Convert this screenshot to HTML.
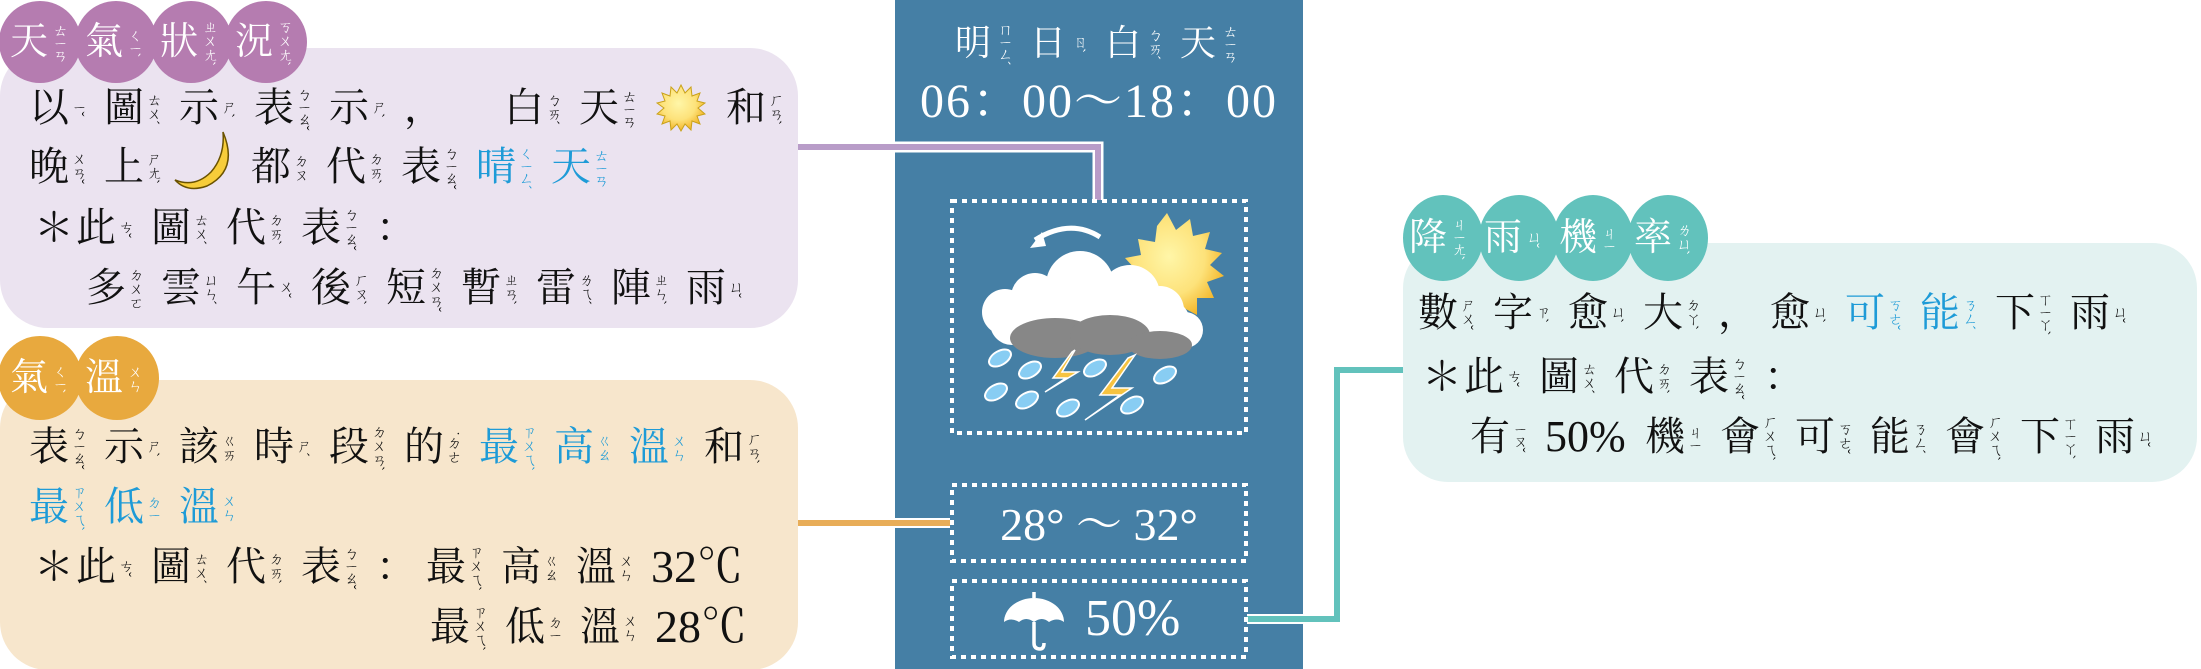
<!DOCTYPE html>
<html><head><meta charset="utf-8"><style>
*{margin:0;padding:0;box-sizing:border-box}
body{width:2201px;height:669px;position:relative;background:#fff;overflow:hidden;font-family:"Liberation Serif","Noto Serif CJK SC",serif;color:#111}
.ln{position:absolute;height:50px;line-height:50px;white-space:nowrap}
u{display:inline-block;position:relative;width:75px;text-decoration:none;font-size:40px;height:50px;vertical-align:top}
u i{position:absolute;left:41px;top:50%;transform:translateY(-50%);writing-mode:vertical-rl;font-size:15px;font-style:normal;line-height:1;letter-spacing:-1px}
.b{color:#1e9bd7}
.w{color:#fff}
.t u{font-size:38px}
.p{display:inline-block;vertical-align:top;font-size:40px}
svg{position:absolute;left:0;top:0}
</style></head><body>
<svg width="2201" height="669" viewBox="0 0 2201 669">
<rect x="895" y="0" width="408" height="669" fill="#457fa5"/>
<rect x="0" y="48" width="798" height="280" rx="48" fill="#ebe3f0"/>
<rect x="0" y="380" width="798" height="290" rx="48" fill="#f7e6cc"/>
<rect x="1403" y="243" width="794" height="239" rx="45" fill="#e3f2f1"/>
<g fill="#b57cb0"><circle cx="40" cy="42" r="41"/><circle cx="116" cy="42" r="41"/><circle cx="191" cy="42" r="41"/><circle cx="266" cy="42" r="41"/></g>
<g fill="#e8a93e"><circle cx="40" cy="378" r="42"/><circle cx="117" cy="378" r="42"/></g>
<g fill="#62c2bc"><ellipse cx="1443" cy="238" rx="40" ry="43"/><ellipse cx="1519" cy="238" rx="40" ry="43"/><ellipse cx="1593" cy="238" rx="40" ry="43"/><ellipse cx="1668" cy="238" rx="40" ry="43"/></g>
<polyline points="798,147 1098,147 1098,200" fill="none" stroke="#fff" stroke-width="11"/>
<polyline points="798,147 1098,147 1098,200" fill="none" stroke="#b89cc8" stroke-width="6"/>
<line x1="798" y1="523" x2="950" y2="523" stroke="#fff" stroke-width="10"/>
<line x1="798" y1="523" x2="950" y2="523" stroke="#e8ad58" stroke-width="6"/>
<polyline points="1247,619 1337,619 1337,370 1403,370" fill="none" stroke="#fff" stroke-width="10"/>
<polyline points="1247,619 1337,619 1337,370 1403,370" fill="none" stroke="#62c2bc" stroke-width="6"/>
<g fill="none" stroke="#fff" stroke-width="4" stroke-dasharray="5 5">
<rect x="952" y="201" width="294" height="232"/>
<rect x="952" y="485" width="294" height="76"/>
<rect x="952" y="581" width="294" height="76"/>
</g>
<defs><radialGradient id="sg" cx="0.45" cy="0.4" r="0.6"><stop offset="0" stop-color="#fff6a8"/><stop offset="0.6" stop-color="#fde27a"/><stop offset="1" stop-color="#f3b325"/></radialGradient></defs>
<polygon fill="url(#sg)" points="1167,213 1176,230 1190,219 1193,236 1210,232 1205,249 1222,253 1210,265 1224,276 1207,282 1214,298 1197,298 1197,315 1182,307 1175,322 1166,309 1152,318 1150,302 1134,303 1139,288 1124,280 1136,270 1125,258 1141,255 1138,239 1155,242 1157,226"/>
<path d="M1100,237 Q1070,218 1035,240" fill="none" stroke="#fff" stroke-width="5"/>
<polygon points="1030,248 1042,232 1046,246" fill="#fff"/>
<g fill="#fff">
<circle cx="1005" cy="312" r="23"/><circle cx="1035" cy="297" r="24"/><circle cx="1080" cy="285" r="34"/><circle cx="1130" cy="295" r="30"/><circle cx="1160" cy="310" r="24"/><circle cx="1185" cy="330" r="18"/>
<rect x="990" y="300" width="200" height="45" rx="22"/>
</g>
<g fill="#878787"><ellipse cx="1055" cy="338" rx="45" ry="20"/><ellipse cx="1110" cy="335" rx="40" ry="20"/><ellipse cx="1160" cy="345" rx="32" ry="14"/></g>
<g fill="#88cdf3" stroke="#fff" stroke-width="2">
<ellipse cx="1000" cy="358" rx="12" ry="7" transform="rotate(-30 1000 358)"/>
<ellipse cx="1030" cy="370" rx="12" ry="7" transform="rotate(-30 1030 370)"/>
<ellipse cx="1095" cy="368" rx="12" ry="7" transform="rotate(-30 1095 368)"/>
<ellipse cx="1165" cy="375" rx="12" ry="7" transform="rotate(-30 1165 375)"/>
<ellipse cx="996" cy="392" rx="12" ry="7" transform="rotate(-30 996 392)"/>
<ellipse cx="1027" cy="400" rx="12" ry="7" transform="rotate(-30 1027 400)"/>
<ellipse cx="1068" cy="408" rx="12" ry="7" transform="rotate(-30 1068 408)"/>
<ellipse cx="1132" cy="405" rx="12" ry="7" transform="rotate(-30 1132 405)"/>
</g>
<g fill="#f6c341" stroke="#fff" stroke-width="1.5">
<polygon points="1075,350 1062,372 1078,372 1045,392 1066,378 1053,378 1072,352"/>
<polygon points="1135,355 1112,388 1132,388 1085,420 1120,395 1100,395 1128,358"/>
</g>
<path d="M1004,622 A30,24 0 0 1 1064,622 Q1057,617 1049,622 Q1042,616 1034,622 Q1026,616 1019,622 Q1011,617 1004,622Z" fill="#fff"/>
<path d="M1034,592 V598 M1034,622 V643 Q1034,649 1040,649 Q1044,649 1044,643" fill="none" stroke="#fff" stroke-width="3.5"/>
</svg>

<div class="ln t w" style="left:955px;top:18px"><u style="font-size:36px">明<i>ㄇㄧㄥˊ</i></u><u style="font-size:36px">日<i>ㄖˋ</i></u><u style="font-size:36px">白<i>ㄅㄞˊ</i></u><u style="font-size:36px">天<i>ㄊㄧㄢ</i></u></div>
<div class="ln w" style="left:895px;width:408px;text-align:center;top:77px;font-size:48px;letter-spacing:2px">06：00～18：00</div>
<div class="ln w" style="left:952px;width:294px;text-align:center;top:500px;font-size:46px">28° ～ 32°</div>
<div class="ln w" style="left:1085px;top:594px;font-size:52px">50%</div>

<div class="ln t w" style="left:10px;top:17px"><u>天<i>ㄊㄧㄢ</i></u><u>氣<i>ㄑㄧˋ</i></u><u>狀<i>ㄓㄨㄤˋ</i></u><u>況<i>ㄎㄨㄤˋ</i></u></div>
<div class="ln" style="left:29px;top:83px"><u>以<i>ㄧˇ</i></u><u>圖<i>ㄊㄨˊ</i></u><u>示<i>ㄕˋ</i></u><u>表<i>ㄅㄧㄠˇ</i></u><u>示<i>ㄕˋ</i></u><u style="width:100px">，</u><u>白<i>ㄅㄞˊ</i></u><u>天<i>ㄊㄧㄢ</i></u><span class="p" style="width:72px;height:50px;position:relative"><svg width="50" height="50" viewBox="0 0 50 50" style="left:2px;top:0"><polygon fill="url(#sg)" stroke="#c9a21a" stroke-width="1" points="25,2 29,10 35,4 36,13 44,10 41,18 49,20 42,25 49,31 41,33 44,41 36,38 35,47 29,41 25,48 21,41 15,47 14,38 6,41 9,33 1,31 8,25 1,20 9,18 6,10 14,13 15,4 21,10"/></svg></span><u>和<i>ㄏㄢˋ</i></u></div>
<div class="ln" style="left:29px;top:142px"><u>晚<i>ㄨㄢˇ</i></u><u>上<i>ㄕㄤˋ</i></u><span class="p" style="width:72px;height:50px;position:relative"><svg width="64" height="64" viewBox="0 0 64 64" style="left:-6px;top:-12px"><path d="M50,2 Q66,40 34,56 Q14,63 2,50 Q22,58 38,42 Q52,26 50,2Z" fill="#f7cd3a" stroke="#6a5200" stroke-width="1.5"/></svg></span><u>都<i>ㄉㄡ</i></u><u>代<i>ㄉㄞˋ</i></u><u>表<i>ㄅㄧㄠˇ</i></u><u class="b">晴<i>ㄑㄧㄥˊ</i></u><u class="b">天<i>ㄊㄧㄢ</i></u></div>
<div class="ln" style="left:34px;top:203px"><u style="width:42px">＊</u><u>此<i>ㄘˇ</i></u><u>圖<i>ㄊㄨˊ</i></u><u>代<i>ㄉㄞˋ</i></u><u>表<i>ㄅㄧㄠˇ</i></u><u>：</u></div>
<div class="ln" style="left:86px;top:263px"><u>多<i>ㄉㄨㄛ</i></u><u>雲<i>ㄩㄣˊ</i></u><u>午<i>ㄨˇ</i></u><u>後<i>ㄏㄡˋ</i></u><u>短<i>ㄉㄨㄢˇ</i></u><u>暫<i>ㄓㄢˋ</i></u><u>雷<i>ㄌㄟˊ</i></u><u>陣<i>ㄓㄣˋ</i></u><u>雨<i>ㄩˇ</i></u></div>

<div class="ln t w" style="left:10px;top:353px"><u>氣<i>ㄑㄧˋ</i></u><u>溫<i>ㄨㄣ</i></u></div>
<div class="ln" style="left:29px;top:422px"><u>表<i>ㄅㄧㄠˇ</i></u><u>示<i>ㄕˋ</i></u><u>該<i>ㄍㄞ</i></u><u>時<i>ㄕˊ</i></u><u>段<i>ㄉㄨㄢˋ</i></u><u>的<i>˙ㄉㄜ</i></u><u class="b">最<i>ㄗㄨㄟˋ</i></u><u class="b">高<i>ㄍㄠ</i></u><u class="b">溫<i>ㄨㄣ</i></u><u>和<i>ㄏㄢˋ</i></u></div>
<div class="ln" style="left:29px;top:482px"><u class="b">最<i>ㄗㄨㄟˋ</i></u><u class="b">低<i>ㄉㄧ</i></u><u class="b">溫<i>ㄨㄣ</i></u></div>
<div class="ln" style="left:34px;top:542px"><u style="width:42px">＊</u><u>此<i>ㄘˇ</i></u><u>圖<i>ㄊㄨˊ</i></u><u>代<i>ㄉㄞˋ</i></u><u>表<i>ㄅㄧㄠˇ</i></u><u style="width:50px">：</u><u>最<i>ㄗㄨㄟˋ</i></u><u>高<i>ㄍㄠ</i></u><u>溫<i>ㄨㄣ</i></u><span class="p" style="font-size:46px">32℃</span></div>
<div class="ln" style="left:430px;top:602px"><u>最<i>ㄗㄨㄟˋ</i></u><u>低<i>ㄉㄧ</i></u><u>溫<i>ㄨㄣ</i></u><span class="p" style="font-size:46px">28℃</span></div>

<div class="ln t w" style="left:1409px;top:213px"><u>降<i>ㄐㄧㄤˋ</i></u><u>雨<i>ㄩˇ</i></u><u>機<i>ㄐㄧ</i></u><u>率<i>ㄌㄩˋ</i></u></div>
<div class="ln" style="left:1418px;top:288px"><u>數<i>ㄕㄨˇ</i></u><u>字<i>ㄗˋ</i></u><u>愈<i>ㄩˋ</i></u><u>大<i>ㄉㄚˋ</i></u><u style="width:52px">，</u><u>愈<i>ㄩˋ</i></u><u class="b">可<i>ㄎㄜˇ</i></u><u class="b">能<i>ㄋㄥˊ</i></u><u>下<i>ㄒㄧㄚˋ</i></u><u>雨<i>ㄩˇ</i></u></div>
<div class="ln" style="left:1422px;top:352px"><u style="width:42px">＊</u><u>此<i>ㄘˇ</i></u><u>圖<i>ㄊㄨˊ</i></u><u>代<i>ㄉㄞˋ</i></u><u>表<i>ㄅㄧㄠˇ</i></u><u>：</u></div>
<div class="ln" style="left:1470px;top:412px"><u>有<i>ㄧㄡˇ</i></u><span class="p" style="font-size:44px;width:100px">50%</span><u>機<i>ㄐㄧ</i></u><u>會<i>ㄏㄨㄟˋ</i></u><u>可<i>ㄎㄜˇ</i></u><u>能<i>ㄋㄥˊ</i></u><u>會<i>ㄏㄨㄟˋ</i></u><u>下<i>ㄒㄧㄚˋ</i></u><u>雨<i>ㄩˇ</i></u></div>
</body></html>
